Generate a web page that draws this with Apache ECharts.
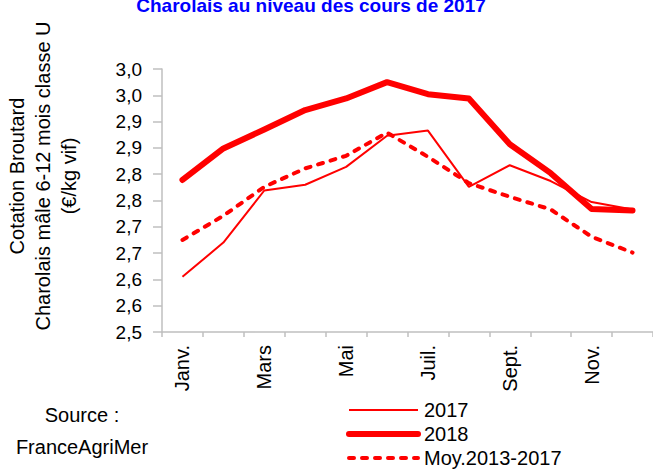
<!DOCTYPE html>
<html>
<head>
<meta charset="utf-8">
<script src="https://cdn.jsdelivr.net/npm/echarts@6/dist/echarts.min.js"></script>
<style>
html,body{margin:0;padding:0;background:#fff;}
#chart{width:653px;height:470px;}
</style>
</head>
<body>
<div id="chart"></div>
<script>
var months = ['Janv.','Févr.','Mars','Avr.','Mai','Juin','Juil.','Août','Sept.','Oct.','Nov.','Déc.'];
var s2017 = [2.605, 2.670, 2.769, 2.780, 2.814, 2.873, 2.883, 2.776, 2.817, 2.787, 2.747, 2.733];
var s2018 = [2.789, 2.849, 2.885, 2.922, 2.944, 2.975, 2.952, 2.944, 2.857, 2.802, 2.734, 2.731];
var sMoy  = [2.675, 2.721, 2.776, 2.811, 2.835, 2.879, 2.833, 2.783, 2.757, 2.733, 2.681, 2.651];
var seriesNames = ['2017', '2018', 'Moy.2013-2017'];
var yTickLabels = ['2,5','2,6','2,6','2,7','2,7','2,8','2,8','2,9','2,9','3,0','3,0'];
var yMin = 2.5, yMax = 3.0, yStep = 0.05;
var titleText = 'Charolais au niveau des cours de 2017';
var yAxisTitle = 'Cotation Broutard\nCharolais mâle 6-12 mois classe U\n(€/kg vif)';
var sourceText = 'Source :\nFranceAgriMer';

var FONT = '"Liberation Sans", Arial, sans-serif';
var RED = '#FF0000';
var AXIS = '#BFBFBF';

var chart = echarts.init(document.getElementById('chart'), null, {renderer: 'svg'});
chart.setOption({
  animation: false,
  backgroundColor: '#ffffff',
  textStyle: {fontFamily: FONT},
  grid: {left: 162, top: 69, width: 504, height: 263, containLabel: false},
  graphic: [
    {type: 'text', x: 311, y: 15, style: {text: titleText, fill: '#0000FF', font: 'bold 19px ' + FONT, textAlign: 'center', textVerticalAlign: 'bottom'}},
    {type: 'text', x: 43, y: 176, rotation: Math.PI / 2, style: {text: yAxisTitle, fill: '#000', font: '20px ' + FONT, lineHeight: 26, textAlign: 'center', textVerticalAlign: 'middle'}},
    {type: 'text', x: 82, y: 431, style: {text: sourceText, fill: '#000', font: '20px ' + FONT, lineHeight: 32, textAlign: 'center', textVerticalAlign: 'middle'}}
  ],
  legend: {
    orient: 'vertical',
    left: 346,
    top: 398,
    itemWidth: 69,
    itemHeight: 14,
    itemGap: 0,
    padding: 0,
    textStyle: {fontFamily: FONT, fontSize: 20, color: '#000', lineHeight: 24, padding: [0, 0, 0, 1]},
    data: [
      {name: seriesNames[0], itemStyle: {opacity: 0}, lineStyle: {width: 2}},
      {name: seriesNames[1], itemStyle: {opacity: 0}, lineStyle: {width: 6, cap: 'round'}},
      {name: seriesNames[2], itemStyle: {opacity: 0}, lineStyle: {width: 4, type: [5, 8], cap: 'round'}}
    ]
  },
  xAxis: {
    type: 'category',
    data: months,
    boundaryGap: true,
    axisLine: {lineStyle: {color: AXIS, width: 1.5}},
    axisTick: {show: true, interval: 0, length: 5, lineStyle: {color: AXIS, width: 1.5}},
    axisLabel: {interval: 1, rotate: 90, margin: 13, color: '#000', fontFamily: FONT, fontSize: 20},
    splitLine: {show: false}
  },
  yAxis: {
    type: 'value',
    min: yMin,
    max: yMax,
    interval: yStep,
    axisLine: {show: true, lineStyle: {color: AXIS, width: 1.5}},
    axisTick: {show: true, length: 9, lineStyle: {color: AXIS, width: 1.5}},
    axisLabel: {
      margin: 20, color: '#000', fontFamily: FONT, fontSize: 19,
      formatter: function (v) { return yTickLabels[Math.round((v - yMin) / yStep)]; }
    },
    splitLine: {show: false}
  },
  series: [
    {name: seriesNames[0], type: 'line', data: s2017, symbol: 'none', z: 3,
     lineStyle: {color: RED, width: 2}, itemStyle: {color: RED}},
    {name: seriesNames[1], type: 'line', data: s2018, symbol: 'none', z: 2,
     lineStyle: {color: RED, width: 6, cap: 'round', join: 'round'}, itemStyle: {color: RED}},
    {name: seriesNames[2], type: 'line', data: sMoy, symbol: 'none', z: 2,
     lineStyle: {color: RED, width: 4, type: [5, 8], cap: 'round'}, itemStyle: {color: RED}}
  ]
});
</script>
</body>
</html>
